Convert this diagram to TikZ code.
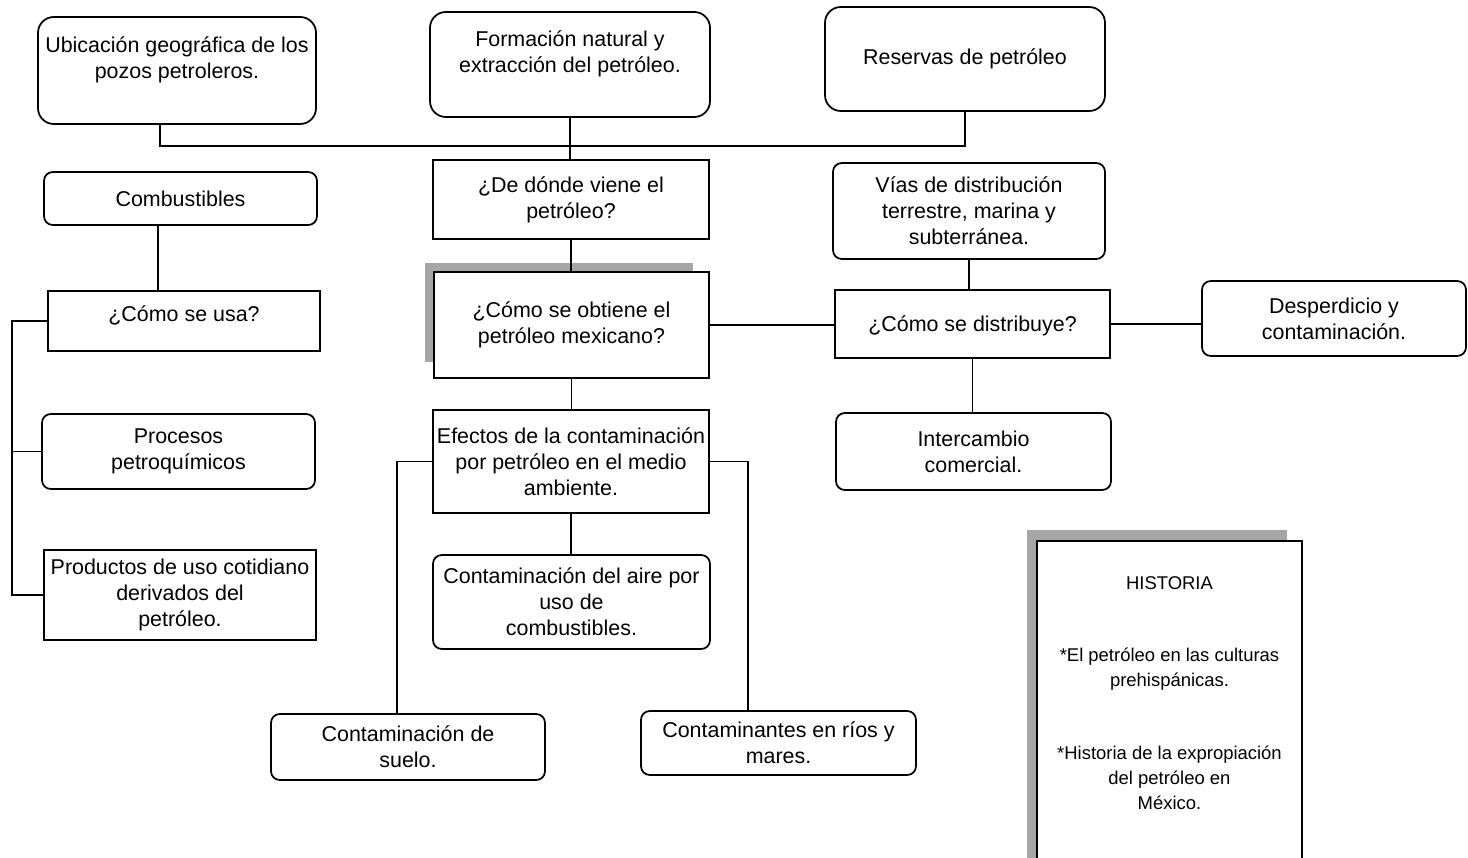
\documentclass[tikz,border=0pt]{standalone}
\usepackage{fontspec}
\setmainfont{Liberation Sans}
\usetikzlibrary{shapes,positioning}

\begin{document}
\begin{tikzpicture}
  [x=0.02cm,y=-0.02cm,
   sz/.style 2 args={minimum width=#1*0.02cm,minimum height=#2*0.02cm},
   squareN/.style={draw,line width=1pt,align=center,inner sep=1pt,
     text=black,font=\fontsize{12.2}{14.7}\selectfont},
   roundN/.style={squareN,rounded corners=5pt},
   bigN/.style={squareN,rounded corners=9pt},
   histN/.style={squareN,font=\fontsize{10.5}{14.2}\selectfont},
   linkN/.style={line width=0.9pt},
   shadeN/.style={fill=black!35}]

  \useasboundingbox (0,0) rectangle (1468,858);

  % shadows
  \fill[shadeN] (425,263) rectangle (693,272);
  \fill[shadeN] (425,263) rectangle (434,362);
  \fill[shadeN] (1027,530) rectangle (1287,541);
  \fill[shadeN] (1027,530) rectangle (1037,858);

  % top row
  \node[bigN,sz={278}{107}] (ubic)   at (177,70.5) {Ubicación geográfica de los\\ pozos petroleros.\\ \mbox{}};
  \node[bigN,sz={280}{105}] (form)   at (570,64.5) {Formación natural y\\ extracción del petróleo.\\ \mbox{}};
  \node[bigN,sz={280}{104}] (reserv) at (965,59)   {Reservas de petróleo};

  % left column
  \node[roundN,sz={273}{53}]  (comb)      at (180.5,198.5) {Combustibles};
  \node[squareN,sz={272}{60}] (usa)       at (184,321)     {¿Cómo se usa?\\[-6pt] \mbox{}};
  \node[roundN,sz={273}{75}]  (procesos)  at (178.5,451.5) {Procesos\\ petroquímicos};
  \node[squareN,sz={272}{90}] (productos) at (180,595)     {Productos de uso cotidiano\\ derivados del\\ petróleo.};

  % middle column
  \node[squareN,sz={276}{79}]  (donde)   at (571,199.5) {¿De dónde viene el\\ petróleo?};
  \node[squareN,sz={275}{106}] (obtiene) at (571.5,325) {¿Cómo se obtiene el\\ petróleo mexicano?};
  \node[squareN,sz={276}{103}] (efectos) at (571,461.5) {Efectos de la contaminación\\ por petróleo en el medio\\ ambiente.};
  \node[roundN,sz={277}{94}]   (aire)    at (571.5,602) {Contaminación del aire por\\ uso de\\ combustibles.};
  \node[roundN,sz={274}{66}]   (suelo)   at (408,747)   {Contaminación de\\ suelo.};
  \node[roundN,sz={275}{64}]   (rios)    at (778.5,743) {Contaminantes en ríos y\\ mares.};

  % right column
  \node[roundN,sz={272}{96}]  (vias)    at (969,211)    {Vías de distribución\\ terrestre, marina y\\ subterránea.};
  \node[squareN,sz={275}{68}] (distrib) at (972.5,324)  {\mbox{}\\[-4pt] ¿Cómo se distribuye?};
  \node[roundN,sz={264}{75}]  (desper)  at (1334,318.5) {Desperdicio y\\ contaminación.};
  \node[roundN,sz={275}{77}]  (inter)   at (973.5,451.5) {Intercambio\\ comercial.};

  \node[histN,sz={265}{339}] (hist) at (1169.5,710.5)
    {HISTORIA\\[27pt] *El petróleo en las culturas\\ prehispánicas.\\[27pt]
     *Historia de la expropiación\\ del petróleo en\\ México.\\[6pt] \mbox{}};

  % junction points
  \coordinate (busL) at (160,146);
  \coordinate (busR) at (965,146);
  \coordinate (combX) at (158,0);
  \coordinate (brk) at (12,0);
  \coordinate (sueloX) at (397,0);
  \coordinate (riosX) at (748,0);

  \draw[linkN] (ubic.south -| busL) -- (busL) -- (busR) -- (reserv.south);
  \draw[linkN] (form.south) -- (form.south |- donde.north);
  \draw[linkN] (donde.south) -- (donde.south |- obtiene.north);
  \draw[linkN] (obtiene.south) -- (obtiene.south |- efectos.north);
  \draw[linkN] (efectos.south) -- (efectos.south |- aire.north);
  \draw[linkN] (obtiene.east) -- (obtiene.east -| distrib.west);
  \draw[linkN] (vias.south) -- (vias.south |- distrib.north);
  \draw[linkN] (distrib.east) -- (distrib.east -| desper.west);
  \draw[linkN] (distrib.south) -- (distrib.south |- inter.north);

  \draw[linkN] (comb.south -| combX) -- (usa.north -| combX);
  \draw[linkN] (usa.west) -- (usa.west -| brk) -- (productos.west -| brk) -- (productos.west);
  \draw[linkN] (procesos.west) -- (procesos.west -| brk);

  \draw[linkN] (efectos.west) -| (suelo.north -| sueloX);
  \draw[linkN] (efectos.east) -| (rios.north -| riosX);

\end{tikzpicture}
\end{document}
